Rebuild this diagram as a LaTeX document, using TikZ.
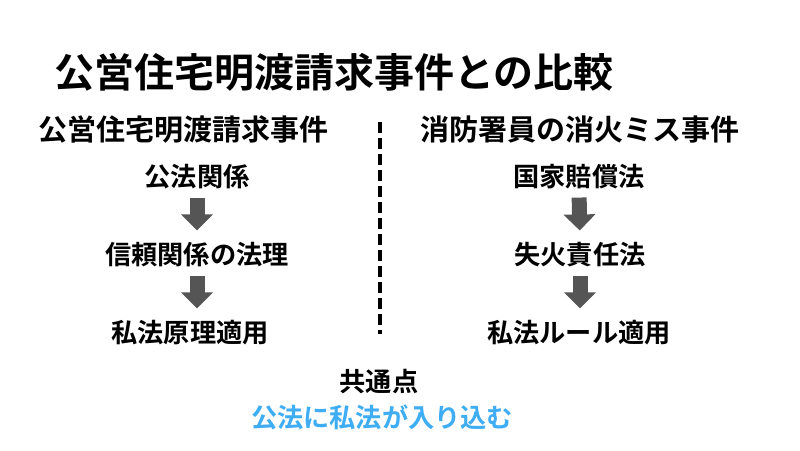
\documentclass[tikz,border=0pt]{standalone}
\usepackage{fontspec}
\setmainfont{Noto Sans CJK JP}[BoldFont={Noto Sans CJK JP Bold}]
\usetikzlibrary{arrows.meta}
\definecolor{arrowgray}{HTML}{555555}
\definecolor{skyblue}{HTML}{3FADF3}
\tikzset{
  base/.style={inner sep=0pt,font=\bfseries\fontsize{26.2}{26.2}\selectfont},
  heading/.style={base,font=\bfseries\fontsize{29}{29}\selectfont},
  blockarrow/.style={draw=arrowgray,line width=15pt,shorten <=8pt,shorten >=12pt,
    -{Triangle[width=31pt,length=16pt]}}
}
\begin{document}
\begin{tikzpicture}[x=1pt,y=-1pt]
  \useasboundingbox (0,0) rectangle (800,450);
  % title
  \node[base,font=\bfseries\fontsize{40}{40}\selectfont] (title) at (334,72) {公営住宅明渡請求事件との比較};
  % left column
  \node[heading] (lhead) at (183,130) {公営住宅明渡請求事件};
  \node[base] (l1) at (197,177) {公法関係};
  \node[base] (l2) at (197,255) {信頼関係の法理};
  \node[base] (l3) at (190,333) {私法原理適用};
  \draw[blockarrow] (l1.south) -- (l2.north);
  \draw[blockarrow] (l2.south) -- (l2.south |- l3.north);
  % divider
  \coordinate (dtop) at (379.5,122);
  \coordinate (dbot) at (379.5,334);
  \draw[line width=4pt,dash pattern=on 11pt off 5pt] (dtop) -- (dbot);
  % right column
  \node[heading] (rhead) at (580,130) {消防署員の消火ミス事件};
  \node[base] (r1) at (579,177) {国家賠償法};
  \node[base] (r2) at (580,255) {失火責任法};
  \node[base] (r3) at (579,333) {私法ルール適用};
  \draw[blockarrow] (r1.south) -- (r2.north);
  \draw[blockarrow] (r2.south) -- (r2.south |- r3.north);
  % common point
  \node[base] (common) at (379,382) {共通点};
  \node[base,text=skyblue] (point) at (382,417) {公法に私法が入り込む};
\end{tikzpicture}
\end{document}
